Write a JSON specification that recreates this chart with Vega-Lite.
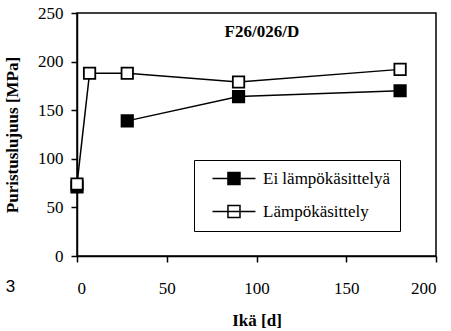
{
  "$schema": "https://vega.github.io/schema/vega-lite/v6.json",
  "width": 359,
  "height": 243,
  "autosize": {"type": "none"},
  "padding": {"left": 77, "top": 13, "right": 15, "bottom": 75},
  "background": "white",
  "config": {
    "font": "Liberation Serif",
    "view": {"stroke": "black", "strokeWidth": 1.5},
    "axis": {
      "grid": false,
      "domainColor": "black",
      "domainWidth": 1.5,
      "tickColor": "black",
      "tickWidth": 1.5,
      "tickSize": 6,
      "labelFont": "Liberation Serif",
      "labelFontWeight": 400,
      "labelFontSize": 17,
      "labelColor": "black",
      "titleFont": "Liberation Serif",
      "titleFontSize": 17,
      "titleFontWeight": "bold",
      "titleColor": "black"
    },
    "legend": {"labelFont": "Liberation Serif", "labelFontSize": 17, "labelFontWeight": 400}
  },
  "data": {
    "values": [
      {"age": 0, "strength": 71, "series": "Ei lämpökäsittelyä"},
      {"age": 7, "strength": null, "series": "Ei lämpökäsittelyä"},
      {"age": 28, "strength": 139, "series": "Ei lämpökäsittelyä"},
      {"age": 90, "strength": 164, "series": "Ei lämpökäsittelyä"},
      {"age": 180, "strength": 170, "series": "Ei lämpökäsittelyä"},
      {"age": 0, "strength": 74, "series": "Lämpökäsittely"},
      {"age": 7, "strength": 188, "series": "Lämpökäsittely"},
      {"age": 28, "strength": 188, "series": "Lämpökäsittely"},
      {"age": 90, "strength": 179, "series": "Lämpökäsittely"},
      {"age": 180, "strength": 192, "series": "Lämpökäsittely"}
    ]
  },
  "encoding": {
    "x": {
      "field": "age",
      "type": "quantitative",
      "scale": {"domain": [0, 200], "nice": false},
      "axis": {"values": [0, 50, 100, 150, 200], "title": "Ikä [d]", "titlePadding": 16, "labelPadding": 18}
    },
    "y": {
      "field": "strength",
      "type": "quantitative",
      "scale": {"domain": [0, 250], "nice": false},
      "axis": {"values": [0, 50, 100, 150, 200, 250], "title": "Puristuslujuus [MPa]", "titlePadding": 16, "labelPadding": 8}
    }
  },
  "layer": [
    {
      "mark": {"type": "line", "color": "black", "strokeWidth": 1.5, "invalid": "break-paths-show-domains"},
      "encoding": {"detail": {"field": "series"}}
    },
    {
      "mark": {"type": "point", "shape": "square", "size": 130, "stroke": "black", "strokeWidth": 1.8, "opacity": 1, "filled": false},
      "encoding": {
        "fill": {
          "field": "series",
          "type": "nominal",
          "scale": {"domain": ["Ei lämpökäsittelyä", "Lämpökäsittely"], "range": ["black", "white"]},
          "legend": {
            "title": null,
            "orient": "none",
            "legendX": 117,
            "legendY": 147,
            "direction": "vertical",
            "strokeColor": "black",
            "fillColor": "white",
            "padding": 10,
            "symbolType": "M0,0H6M2.16,-0.84H3.84V0.84H2.16Z",
            "symbolSize": 205,
            "symbolStrokeColor": "black",
            "symbolStrokeWidth": 1.5,
            "symbolOpacity": 1,
            "labelFont": "Liberation Serif",
            "labelFontSize": 17,
            "labelColor": "black",
            "labelOffset": 42,
            "rowPadding": 14
          }
        }
      }
    },
    {
      "data": {"values": [{"age": 103, "strength": 225, "label": "F26/026/D"}]},
      "mark": {"type": "text", "font": "Liberation Serif", "fontSize": 17, "fontWeight": "bold", "color": "black", "baseline": "alphabetic", "align": "center"},
      "encoding": {"text": {"field": "label"}}
    },
    {
      "data": {"values": [{"age": -37, "strength": -32, "label": "3"}]},
      "mark": {"type": "text", "font": "Liberation Sans", "fontSize": 17, "color": "black", "clip": false, "baseline": "middle", "align": "center"},
      "encoding": {"text": {"field": "label"}}
    }
  ]
}
